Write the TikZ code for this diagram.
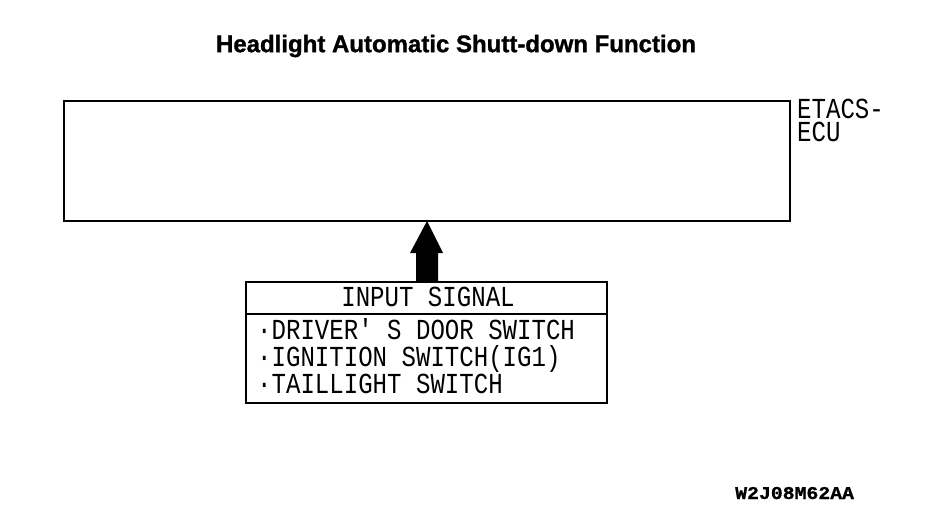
\documentclass[tikz,border=0pt]{standalone}
\usepackage{fontspec}
\setmainfont{Liberation Sans}
\newfontfamily\titlefont[FakeBold=1.2]{Liberation Sans Bold}
\newfontfamily\plotfont[FakeStretch=0.83]{Liberation Mono}
\newfontfamily\codefont[FakeBold=0.8]{Liberation Mono Bold}
\newcommand\plotlist{\plotfont\fontsize{29}{27}\selectfont\setlength{\lineskiplimit}{-40pt}}
\newcommand\plotecu{\plotfont\fontsize{29}{22.5}\selectfont\setlength{\lineskiplimit}{-40pt}}
\begin{document}
\begin{tikzpicture}[x=1pt,y=-1pt,
  box/.style={draw,line width=2pt},
  plot/.style={inner sep=0pt,align=left,font=\plotlist},
]
\useasboundingbox (0,0) rectangle (928,528);
\node[inner sep=0pt,font=\titlefont\fontsize{24}{24}\selectfont] (title) at (456,46) {Headlight Automatic Shutt-down Function};
\draw[box] (64,101) rectangle (790,221);
\coordinate (ecuB) at (427,221);
\node[plot,font=\plotecu,anchor=north west] (etacs) at (797,99) {ETACS-\\ECU};
% input box
\draw[box] (246,282) rectangle (607,403);
\draw[line width=1.5pt] (246,314) -- (607,314);
\coordinate (inT) at (427,282);
\node[plot,anchor=base] (insig) at (428,306) {INPUT SIGNAL};
\node[plot,anchor=north west] (list) at (257,318) {·DRIVER' S DOOR SWITCH\\·IGNITION SWITCH(IG1)\\·TAILLIGHT SWITCH};
% arrow
\fill (inT) ++(-11,0) -- ++(0,-29) -- ++(-6,0) -- (ecuB) -- ++(16,32) -- ++(-5,0) -- ++(0,29) -- cycle;
\node[inner sep=0pt,anchor=base west,font=\codefont\fontsize{18}{18}\selectfont] (code) at (735,499) {\scalebox{1.1}[1]{W2J08M62AA}};
\end{tikzpicture}
\end{document}
